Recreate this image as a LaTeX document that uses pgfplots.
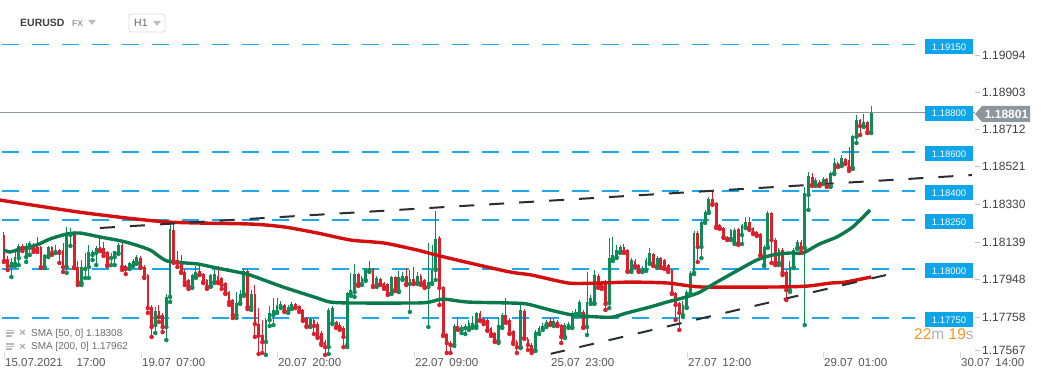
\documentclass[border=0pt]{standalone}
\usepackage{pgfplots}
\pgfplotsset{compat=1.18}
\usepackage{pgfplotstable}
\usepackage{fontspec}
\setmainfont{Liberation Sans}
\definecolor{cgreen}{HTML}{0E8C57}
\definecolor{cred}{HTML}{DA1F2D}
\definecolor{smagreen}{HTML}{0A7A4C}
\definecolor{smared}{HTML}{D40F10}
\definecolor{lblue}{HTML}{0EA5EA}
\definecolor{dblue}{HTML}{1EA8EC}
\definecolor{trend}{HTML}{2A2E33}
\definecolor{ticktxt}{HTML}{404040}
\definecolor{datetxt}{HTML}{555555}
\definecolor{curgrey}{HTML}{8D969C}
\definecolor{orange}{HTML}{F7931E}

\pgfplotstableread{
i o h l c
0 1.18174 1.18189 1.18036 1.18041
1 1.18051 1.18067 1.17995 1.18015
2 1.18015 1.18056 1.17959 1.18036
3 1.18026 1.18087 1.18015 1.18061
4 1.18056 1.18128 1.18020 1.18118
5 1.18118 1.18128 1.18092 1.18108
6 1.18061 1.18133 1.18036 1.18113
7 1.18108 1.18143 1.18072 1.18133
8 1.18118 1.18133 1.18087 1.18102
9 1.18113 1.18164 1.18087 1.18097
10 1.18113 1.18118 1.18005 1.18010
11 1.18010 1.18077 1.18005 1.18072
12 1.18067 1.18118 1.18061 1.18113
13 1.18113 1.18118 1.18072 1.18082
14 1.18082 1.18123 1.18082 1.18097
15 1.18097 1.18102 1.18031 1.18082
16 1.18097 1.18133 1.17985 1.18010
17 1.18010 1.18215 1.17980 1.18174
18 1.18174 1.18210 1.18118 1.18189
19 1.18184 1.18195 1.18005 1.18010
20 1.18010 1.18041 1.17918 1.17933
21 1.17928 1.18046 1.17918 1.18010
22 1.18000 1.18082 1.17954 1.18010
23 1.18010 1.18123 1.17954 1.18087
24 1.18072 1.18097 1.18046 1.18087
25 1.18082 1.18118 1.18020 1.18108
26 1.18113 1.18174 1.18092 1.18097
27 1.18108 1.18138 1.18067 1.18082
28 1.18087 1.18092 1.18015 1.18020
29 1.18056 1.18082 1.18020 1.18067
30 1.18061 1.18092 1.18020 1.18092
31 1.18082 1.18133 1.18077 1.18123
32 1.18123 1.18133 1.17995 1.18010
33 1.18015 1.18020 1.17974 1.18000
34 1.18005 1.18036 1.18000 1.18031
35 1.18020 1.18051 1.18015 1.18041
36 1.18031 1.18072 1.18026 1.18061
37 1.18056 1.18067 1.18005 1.18010
38 1.18010 1.18020 1.17954 1.17959
39 1.17969 1.17974 1.17775 1.17800
40 1.17805 1.17816 1.17652 1.17703
41 1.17713 1.17805 1.17672 1.17785
42 1.17785 1.17816 1.17729 1.17754
43 1.17764 1.17775 1.17677 1.17703
44 1.17703 1.17872 1.17636 1.17857
45 1.17857 1.18230 1.17831 1.18205
46 1.18200 1.18236 1.18031 1.18036
47 1.18046 1.18092 1.18010 1.18031
48 1.18036 1.18072 1.17980 1.17985
49 1.17985 1.17995 1.17918 1.17933
50 1.17944 1.17949 1.17898 1.17908
51 1.17908 1.17974 1.17903 1.17969
52 1.17959 1.18015 1.17954 1.17985
53 1.17990 1.18015 1.17969 1.17974
54 1.17974 1.17980 1.17928 1.17933
55 1.17944 1.17949 1.17898 1.17908
56 1.17913 1.17974 1.17908 1.17969
57 1.17933 1.17995 1.17928 1.17974
58 1.17964 1.18015 1.17928 1.17933
59 1.17954 1.17959 1.17898 1.17918
60 1.17928 1.17933 1.17872 1.17877
61 1.17882 1.17887 1.17816 1.17831
62 1.17841 1.17846 1.17749 1.17764
63 1.17764 1.17882 1.17749 1.17826
64 1.17826 1.17892 1.17821 1.17872
65 1.17872 1.18005 1.17862 1.17990
66 1.17990 1.18005 1.17795 1.17805
67 1.17805 1.17892 1.17790 1.17872
68 1.17872 1.17918 1.17652 1.17718
69 1.17718 1.17800 1.17565 1.17657
70 1.17662 1.17739 1.17570 1.17626
71 1.17626 1.17749 1.17560 1.17739
72 1.17739 1.17811 1.17708 1.17775
73 1.17764 1.17852 1.17713 1.17790
74 1.17780 1.17852 1.17775 1.17816
75 1.17805 1.17836 1.17800 1.17821
76 1.17816 1.17821 1.17780 1.17785
77 1.17780 1.17816 1.17775 1.17805
78 1.17800 1.17831 1.17795 1.17821
79 1.17821 1.17826 1.17800 1.17805
80 1.17811 1.17816 1.17780 1.17785
81 1.17790 1.17795 1.17734 1.17739
82 1.17749 1.17754 1.17703 1.17708
83 1.17708 1.17749 1.17703 1.17744
84 1.17739 1.17744 1.17667 1.17708
85 1.17718 1.17729 1.17647 1.17652
86 1.17672 1.17683 1.17611 1.17621
87 1.17626 1.17636 1.17560 1.17600
88 1.17600 1.17800 1.17565 1.17790
89 1.17724 1.17811 1.17718 1.17800
90 1.17729 1.17734 1.17698 1.17703
91 1.17713 1.17729 1.17688 1.17698
92 1.17698 1.17708 1.17600 1.17652
93 1.17611 1.17882 1.17600 1.17877
94 1.17867 1.17980 1.17862 1.17892
95 1.17882 1.18026 1.17857 1.17974
96 1.17974 1.17980 1.17913 1.17923
97 1.17923 1.17964 1.17918 1.17954
98 1.17944 1.18005 1.17939 1.18000
99 1.17990 1.18041 1.17985 1.18005
100 1.18000 1.18005 1.17908 1.17913
101 1.17918 1.17964 1.17908 1.17954
102 1.17949 1.17954 1.17918 1.17923
103 1.17928 1.17933 1.17898 1.17908
104 1.17923 1.17928 1.17867 1.17872
105 1.17877 1.17964 1.17872 1.17959
106 1.17959 1.17964 1.17887 1.17892
107 1.17887 1.17990 1.17882 1.17959
108 1.17949 1.17985 1.17944 1.17964
109 1.17964 1.18005 1.17918 1.17923
110 1.17923 1.17995 1.17780 1.17949
111 1.17949 1.18010 1.17923 1.17928
112 1.17928 1.17985 1.17923 1.17964
113 1.17964 1.17974 1.17918 1.17928
114 1.17944 1.17949 1.17903 1.17908
115 1.17908 1.18133 1.17703 1.17933
116 1.17928 1.18123 1.17923 1.17995
117 1.17995 1.18297 1.17944 1.18154
118 1.18159 1.18169 1.17816 1.17903
119 1.17908 1.17913 1.17657 1.17662
120 1.17667 1.17672 1.17570 1.17621
121 1.17621 1.17631 1.17570 1.17611
122 1.17611 1.17718 1.17606 1.17708
123 1.17708 1.17754 1.17688 1.17693
124 1.17688 1.17713 1.17672 1.17703
125 1.17698 1.17718 1.17667 1.17708
126 1.17698 1.17739 1.17688 1.17724
127 1.17708 1.17759 1.17698 1.17724
128 1.17708 1.17780 1.17698 1.17775
129 1.17775 1.17785 1.17734 1.17739
130 1.17744 1.17754 1.17718 1.17729
131 1.17739 1.17749 1.17683 1.17688
132 1.17698 1.17703 1.17657 1.17667
133 1.17672 1.17677 1.17626 1.17631
134 1.17631 1.17754 1.17621 1.17713
135 1.17703 1.17775 1.17698 1.17764
136 1.17764 1.17852 1.17724 1.17729
137 1.17739 1.17749 1.17667 1.17672
138 1.17683 1.17688 1.17616 1.17626
139 1.17626 1.17636 1.17570 1.17600
140 1.17600 1.17816 1.17595 1.17790
141 1.17785 1.17795 1.17642 1.17647
142 1.17642 1.17652 1.17585 1.17611
143 1.17611 1.17621 1.17570 1.17585
144 1.17585 1.17688 1.17580 1.17677
145 1.17672 1.17708 1.17667 1.17698
146 1.17693 1.17724 1.17688 1.17708
147 1.17713 1.17739 1.17703 1.17729
148 1.17734 1.17749 1.17713 1.17718
149 1.17718 1.17744 1.17708 1.17734
150 1.17729 1.17739 1.17708 1.17713
151 1.17713 1.17718 1.17621 1.17652
152 1.17652 1.17724 1.17647 1.17713
153 1.17703 1.17729 1.17698 1.17718
154 1.17703 1.17785 1.17698 1.17775
155 1.17770 1.17795 1.17759 1.17780
156 1.17775 1.17841 1.17770 1.17831
157 1.17780 1.17790 1.17698 1.17703
158 1.17703 1.17985 1.17662 1.17831
159 1.17826 1.17867 1.17821 1.17852
160 1.17826 1.17995 1.17821 1.17969
161 1.17964 1.17974 1.17903 1.17908
162 1.17928 1.17939 1.17898 1.17908
163 1.17933 1.17944 1.17790 1.17821
164 1.17826 1.18159 1.17800 1.18056
165 1.18046 1.18164 1.18041 1.18072
166 1.18061 1.18123 1.18056 1.18097
167 1.18087 1.18123 1.18082 1.18113
168 1.18113 1.18128 1.18082 1.18087
169 1.18097 1.18102 1.17985 1.17990
170 1.17990 1.18056 1.17985 1.18046
171 1.18041 1.18051 1.18010 1.18015
172 1.18020 1.18026 1.17985 1.17990
173 1.17990 1.18015 1.17985 1.18005
174 1.17995 1.18056 1.17990 1.18046
175 1.18031 1.18108 1.18026 1.18082
176 1.18077 1.18082 1.18015 1.18020
177 1.18010 1.18067 1.18005 1.18056
178 1.18056 1.18061 1.18005 1.18010
179 1.18046 1.18051 1.18000 1.18005
180 1.18020 1.18026 1.17985 1.17995
181 1.17995 1.18000 1.17872 1.17877
182 1.17877 1.17882 1.17739 1.17816
183 1.17826 1.17831 1.17688 1.17775
184 1.17764 1.17836 1.17754 1.17816
185 1.17805 1.17892 1.17800 1.17882
186 1.17877 1.17990 1.17867 1.17980
187 1.17980 1.18195 1.17974 1.18184
188 1.18184 1.18195 1.18036 1.18113
189 1.18113 1.18251 1.18056 1.18241
190 1.18241 1.18302 1.18236 1.18292
191 1.18292 1.18369 1.18287 1.18358
192 1.18358 1.18405 1.18328 1.18333
193 1.18338 1.18343 1.18210 1.18215
194 1.18225 1.18230 1.18205 1.18210
195 1.18210 1.18215 1.18159 1.18164
196 1.18164 1.18169 1.18148 1.18154
197 1.18154 1.18205 1.18148 1.18200
198 1.18133 1.18210 1.18128 1.18200
199 1.18205 1.18210 1.18123 1.18128
200 1.18174 1.18230 1.18128 1.18225
201 1.18215 1.18266 1.18210 1.18241
202 1.18241 1.18266 1.18200 1.18205
203 1.18210 1.18215 1.18179 1.18184
204 1.18189 1.18195 1.18169 1.18174
205 1.18179 1.18184 1.18067 1.18072
206 1.18020 1.18123 1.18015 1.18113
207 1.18113 1.18297 1.18108 1.18287
208 1.18287 1.18292 1.18031 1.18148
209 1.18148 1.18159 1.18020 1.18031
210 1.18031 1.18108 1.18020 1.18097
211 1.18097 1.18108 1.17969 1.17980
212 1.17985 1.17995 1.17841 1.17892
213 1.17892 1.18041 1.17882 1.18010
214 1.18010 1.18108 1.18005 1.18097
215 1.18108 1.18148 1.18102 1.18138
216 1.18138 1.18148 1.18087 1.18108
217 1.18108 1.18420 1.17713 1.18389
218 1.18379 1.18496 1.18302 1.18476
219 1.18471 1.18491 1.18425 1.18430
220 1.18430 1.18466 1.18425 1.18456
221 1.18445 1.18456 1.18425 1.18430
222 1.18440 1.18471 1.18435 1.18461
223 1.18461 1.18466 1.18420 1.18425
224 1.18425 1.18496 1.18420 1.18491
225 1.18491 1.18568 1.18486 1.18543
226 1.18543 1.18548 1.18522 1.18527
227 1.18532 1.18584 1.18527 1.18568
228 1.18563 1.18568 1.18538 1.18543
229 1.18558 1.18625 1.18502 1.18517
230 1.18517 1.18686 1.18512 1.18681
231 1.18676 1.18788 1.18645 1.18763
232 1.18763 1.18768 1.18686 1.18732
233 1.18732 1.18794 1.18727 1.18753
234 1.18753 1.18758 1.18696 1.18701
235 1.18701 1.18835 1.18696 1.18801
}\candles

\begin{document}
\begin{tikzpicture}
\useasboundingbox (0,0) rectangle (1041pt,380pt);
\begin{axis}[
  at={(0,0)}, anchor=south west,
  scale only axis, width=1041pt, height=380pt,
  xmin=-1.084, xmax=281.03,
  ymin=1.1743168, ymax=1.1937728,
  hide axis, clip=true,
]
% horizontal levels
\addplot[dblue, line width=1.5pt, dash pattern=on 17pt off 13pt, forget plot] coordinates {(-0.542,1.1915) (246.9,1.1915)};
\addplot[dblue, line width=1.5pt, dash pattern=on 17pt off 13pt, forget plot] coordinates {(-0.542,1.1880) (246.9,1.1880)};
\addplot[dblue, line width=1.5pt, dash pattern=on 17pt off 13pt, forget plot] coordinates {(-0.542,1.1860) (246.9,1.1860)};
\addplot[dblue, line width=1.5pt, dash pattern=on 17pt off 13pt, forget plot] coordinates {(-0.542,1.1840) (246.9,1.1840)};
\addplot[dblue, line width=1.5pt, dash pattern=on 17pt off 13pt, forget plot] coordinates {(-0.542,1.1825) (246.9,1.1825)};
\addplot[dblue, line width=1.5pt, dash pattern=on 17pt off 13pt, forget plot] coordinates {(-0.542,1.1800) (246.9,1.1800)};
\addplot[dblue, line width=1.5pt, dash pattern=on 17pt off 13pt, forget plot] coordinates {(-0.542,1.1775) (246.9,1.1775)};
% current price line
\addplot[curgrey, line width=1pt, forget plot] coordinates {(-1.084,1.18801) (263.1,1.18801)};
% candles: wicks
\addplot[only marks, mark=none, cgreen, forget plot,
  restrict expr to domain={\thisrow{c}-\thisrow{o}}{0:1},
  error bars/.cd, y dir=plus, y explicit, error mark=none,
  error bar style={line width=1pt, cgreen}]
  table[x=i, y=l, y error expr=\thisrow{h}-\thisrow{l}] {\candles};
\addplot[only marks, mark=none, cred, forget plot,
  restrict expr to domain={\thisrow{c}-\thisrow{o}}{-1:0},
  error bars/.cd, y dir=plus, y explicit, error mark=none,
  error bar style={line width=1pt, cred}]
  table[x=i, y=l, y error expr=\thisrow{h}-\thisrow{l}] {\candles};
% candles: bodies
\addplot[only marks, mark=none, cgreen, forget plot,
  restrict expr to domain={\thisrow{c}-\thisrow{o}}{0:1},
  error bars/.cd, y dir=plus, y explicit, error mark=none,
  error bar style={line width=2.8pt, cgreen}]
  table[x=i, y=o, y error expr=\thisrow{c}-\thisrow{o}] {\candles};
\addplot[only marks, mark=none, cred, forget plot,
  restrict expr to domain={\thisrow{c}-\thisrow{o}}{-1:0},
  error bars/.cd, y dir=plus, y explicit, error mark=none,
  error bar style={line width=2.8pt, cred}]
  table[x=i, y=c, y error expr=\thisrow{o}-\thisrow{c}] {\candles};
% SMA 200
\addplot[smared, line width=3.4pt, smooth, tension=0.4, forget plot] coordinates {
(-1.1,1.18353) (22,1.18287) (44,1.18241) (67,1.18230) (76,1.18215) (85,1.18184)
(94,1.18148) (103,1.18133) (112,1.18097) (117,1.18072) (125,1.18036) (137,1.17985)
(143,1.17969) (153,1.17928) (161,1.17928) (170,1.17933) (180,1.17928) (189,1.17908)
(210,1.17908) (218,1.17913) (224,1.17928) (228,1.17933) (235,1.17959)};
% SMA 50
\addplot[smagreen, line width=3.4pt, smooth, tension=0.4, forget plot] coordinates {
(0,1.18097) (1.6,1.18087) (4.3,1.18102) (8.9,1.18123) (12.5,1.18154) (17,1.18179)
(20.6,1.18184) (26,1.18164) (30.6,1.18148) (34,1.18133) (39.6,1.18097) (44.2,1.18041)
(52.3,1.18026) (57.7,1.18005) (63.1,1.17985) (66.7,1.17969) (75.6,1.17908) (84.8,1.17852)
(88.3,1.17831) (93.8,1.17826) (111.9,1.17826) (115.4,1.17831) (119,1.17846) (125.5,1.17831)
(137,1.17826) (141.7,1.17821) (148,1.17790) (154.2,1.17764) (161.5,1.17754) (165,1.17754)
(168.8,1.17775) (175,1.17805) (179.7,1.17831) (185,1.17857) (188.6,1.17882) (193.2,1.17933)
(197.6,1.17980) (204,1.18046) (208.4,1.18072) (213,1.18082) (216.5,1.18082) (221,1.18128)
(225.7,1.18164) (230,1.18215) (234.7,1.18302)};
% trend lines
\addplot[trend, line width=2pt, dash pattern=on 15pt off 15pt, forget plot] coordinates {(26,1.18210) (262.3,1.18481)};
\addplot[trend, line width=2pt, dash pattern=on 15pt off 15pt, forget plot] coordinates {(148,1.17565) (240.1,1.17974)};
\end{axis}

\begin{scope}[yshift=380pt, x=1pt, y=-1pt]
% header
\node[anchor=west, inner sep=0, text=black!75, font=\fontsize{10.5}{12}\selectfont\bfseries] at (20,23) {EURUSD};
\node[anchor=west, inner sep=0, text=black!40, font=\fontsize{8.5}{10}\selectfont\bfseries] at (72,24) {FX};
\fill[black!25] (88,20) -- (96,20) -- (92,25) -- cycle;
\draw[black!15, rounded corners=2pt, line width=0.8pt] (129,14) rectangle (165,32);
\node[anchor=west, inner sep=0, text=black!60, font=\fontsize{10.5}{12}\selectfont] at (134,23) {H1};
\fill[black!25] (153,21) -- (161,21) -- (157,26) -- cycle;
% blue level labels
\foreach \yy/\lab in {47/1.19150,113.5/1.18800,154/1.18600,193/1.18400,222/1.18250,271/1.18000,320/1.17750}{
  \node[fill=lblue, text=white, minimum width=48pt, minimum height=15pt, inner sep=0,
        font=\fontsize{9.5}{10}\selectfont] at (949,\yy) {\lab};
}
% current price label
\fill[curgrey] (975,114) -- (982,106) -- (1030,106) -- (1030,122) -- (982,122) -- cycle;
\node[text=white, inner sep=0, font=\fontsize{12}{13}\selectfont\bfseries] at (1006.5,114) {1.18801};
% y tick marks and labels
\foreach \yy/\lab in {55/1.19094,92/1.18903,129/1.18712,166.5/1.18521,204/1.18330,242/1.18139,279.5/1.17948,317/1.17758,350/1.17567}{
  \draw[black!25, line width=0.8pt] (975,\yy) -- (980,\yy);
  \node[anchor=west, inner sep=0, text=ticktxt, font=\fontsize{12}{13}\selectfont] at (982,\yy) {\lab};
}
% countdown
\node[anchor=west, inner sep=0, font=\fontsize{15.5}{16}\selectfont] at (914,334)
  {\textcolor{orange}{22}\textcolor{black!30}{m} \textcolor{orange}{19}\textcolor{black!30}{s}};
% legend
\foreach \yy/\lab in {333.5/{SMA [50,\ 0] 1.18308},347/{SMA [200,\ 0] 1.17962}}{
  \fill[black!28] (6,\yy-3.5) rectangle (14,\yy-2.3);
  \fill[black!28] (6,\yy-1) rectangle (14,\yy+0.2);
  \fill[black!28] (6,\yy+1.5) rectangle (12,\yy+3.5);
  \node[inner sep=0, text=black!35, font=\fontsize{11}{12}\selectfont\bfseries] at (22.5,\yy) {×};
  \node[anchor=west, inner sep=0, text=black!58, font=\fontsize{10}{11}\selectfont] at (31,\yy) {\lab};
}
% date ticks and labels
\foreach \xx in {4,141,277,414,550,687,823,960}{
  \draw[black!15, line width=0.8pt] (\xx,352) -- (\xx,358);
}
\node[anchor=west, inner sep=0, text=datetxt, font=\fontsize{11.5}{12}\selectfont] at (5,363) {15.07.2021\hspace{14pt}17:00};
\foreach \xx/\d/\t in {141/19.07/07:00,277/20.07/20:00,414/22.07/09:00,550/25.07/23:00,687/27.07/12:00,823/29.07/01:00,960/30.07/14:00}{
  \node[anchor=west, inner sep=0, text=datetxt, font=\fontsize{11.5}{12}\selectfont] at (\xx+1,363) {\d\hspace{5.5pt}\t};
}
\end{scope}
\end{tikzpicture}
\end{document}
